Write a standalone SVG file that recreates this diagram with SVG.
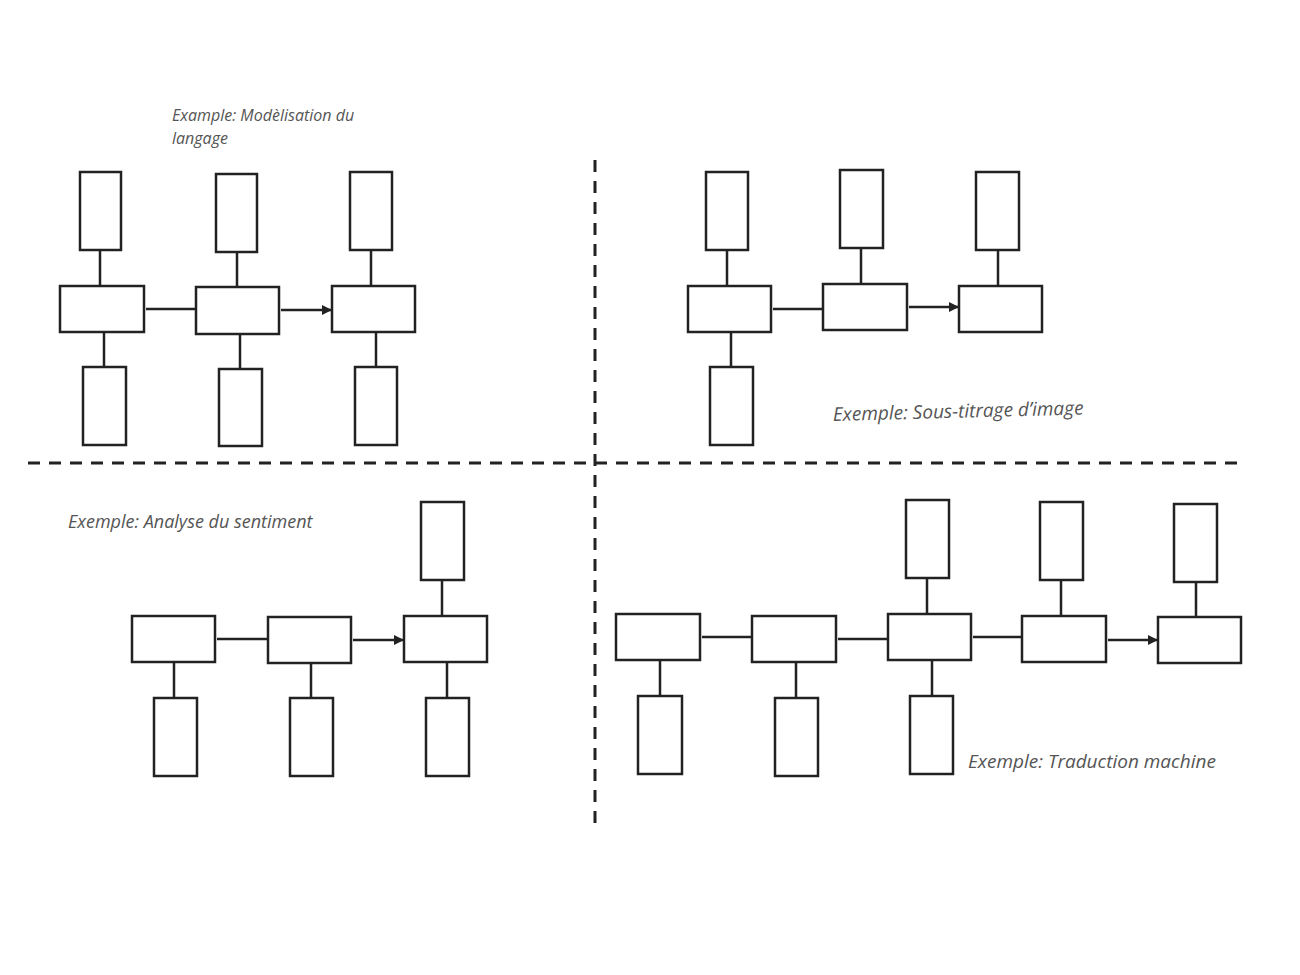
<svg xmlns="http://www.w3.org/2000/svg" width="1300" height="975" viewBox="0 0 1300 975">
<style>
.n{fill:#fff;stroke:#222;stroke-width:2.5}
.c{stroke:#222;stroke-width:2.5;fill:none;marker-end:url(#a)}
.d{stroke:#222;stroke-width:3;stroke-dasharray:12,9;fill:none}
.t{font-family:"Open Sans",sans-serif;font-style:italic;fill:#555}
</style>
<defs><marker id="a" viewBox="0 0 10 10" refX="9" refY="5" markerWidth="4" markerHeight="4" orient="auto"><path d="M0,0L10,5L0,10z" fill="#222"/></marker></defs>
<rect width="1300" height="975" fill="#fff"/>
<g id="dividers"><line class="d" x1="28" y1="463" x2="1240" y2="463"/><line class="d" x1="595" y1="160" x2="595" y2="825"/></g>
<g id="labels">
<text class="t" x="172" y="121" font-size="16">Example: Modèlisation du</text>
<text class="t" x="172" y="144" font-size="16">langage</text>
<text class="t" x="833" y="421" font-size="19" transform="rotate(-1.5 833 421)">Exemple: Sous-titrage d’image</text>
<text class="t" x="68" y="528" font-size="18">Exemple: Analyse du sentiment</text>
<text class="t" x="968" y="768" font-size="19">Exemple: Traduction machine</text>
</g>
<g id="nodes">
<rect class="n" x="80" y="172" width="41" height="78"/><rect class="n" x="216" y="174" width="41" height="78"/><rect class="n" x="350" y="172" width="42" height="78"/>
<rect class="n" x="60" y="286" width="84" height="46"/><rect class="n" x="196" y="287" width="83" height="47"/><rect class="n" x="332" y="286" width="83" height="46"/>
<rect class="n" x="83" y="367" width="43" height="78"/><rect class="n" x="219" y="369" width="43" height="77"/><rect class="n" x="355" y="367" width="42" height="78"/>
<rect class="n" x="706" y="172" width="42" height="78"/><rect class="n" x="840" y="170" width="43" height="78"/><rect class="n" x="976" y="172" width="43" height="78"/>
<rect class="n" x="688" y="286" width="83" height="46"/><rect class="n" x="823" y="284" width="84" height="46"/><rect class="n" x="959" y="286" width="83" height="46"/>
<rect class="n" x="710" y="367" width="43" height="78"/>
<rect class="n" x="421" y="502" width="43" height="78"/>
<rect class="n" x="132" y="616" width="83" height="46"/><rect class="n" x="268" y="617" width="83" height="46"/><rect class="n" x="404" y="616" width="83" height="46"/>
<rect class="n" x="154" y="698" width="43" height="78"/><rect class="n" x="290" y="698" width="43" height="78"/><rect class="n" x="426" y="698" width="43" height="78"/>
<rect class="n" x="616" y="614" width="84" height="46"/><rect class="n" x="752" y="616" width="84" height="46"/><rect class="n" x="888" y="614" width="83" height="46"/><rect class="n" x="1022" y="616" width="84" height="46"/><rect class="n" x="1158" y="617" width="83" height="46"/>
<rect class="n" x="906" y="500" width="43" height="78"/><rect class="n" x="1040" y="502" width="43" height="78"/><rect class="n" x="1174" y="504" width="43" height="78"/>
<rect class="n" x="638" y="696" width="44" height="78"/><rect class="n" x="775" y="698" width="43" height="78"/><rect class="n" x="910" y="696" width="43" height="78"/>
</g>
<g id="connectors">
<path class="c" d="M100,286V251M237,287V253M371,286V251M104,367V333M240,369V335M376,367V333M146,309H195M281,310H331"/>
<path class="c" d="M727,286V251M861,284V249M998,286V251M731,367V333M773,309H822M909,307H958"/>
<path class="c" d="M442,616V581M174,698V663M311,698V664M447,698V663M217,639H267M353,640H403"/>
<path class="c" d="M927,614V579M1061,616V581M1196,617V583M660,696V661M796,698V663M932,696V661M702,637H751M838,639H887M973,637H1021M1108,640H1157"/>
</g>
</svg>
